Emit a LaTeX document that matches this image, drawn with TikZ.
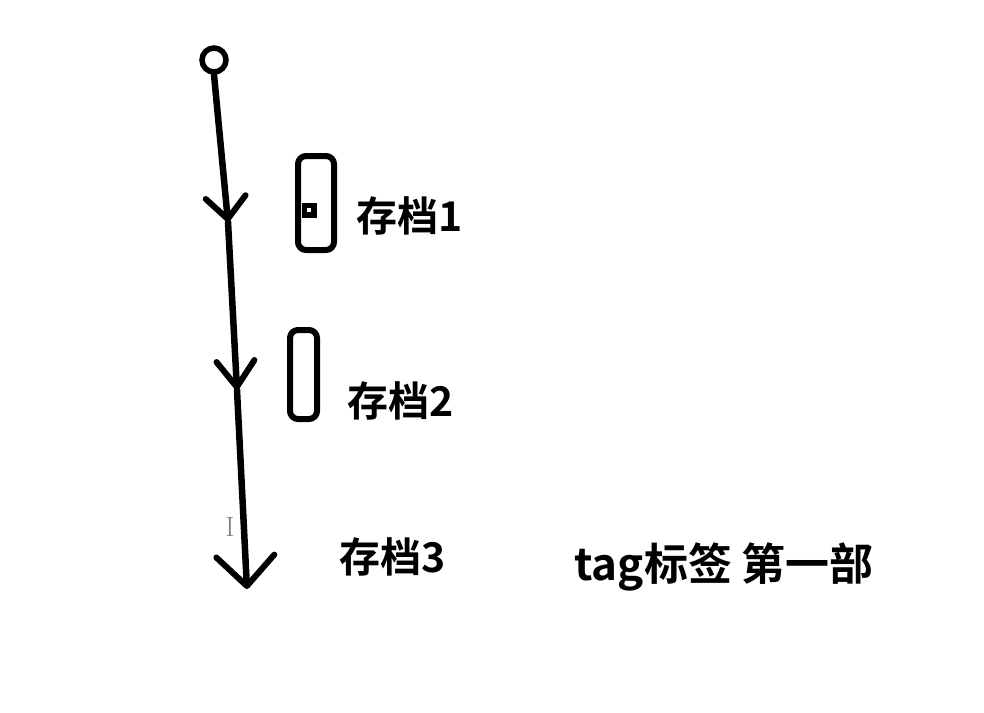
\documentclass[tikz,border=0pt]{standalone}
\usepackage{fontspec}
\newfontfamily\cjk{Noto Sans CJK SC}[BoldFont={* Bold}]
\usetikzlibrary{arrows.meta}
\tikzset{
  ink/.style={line width=6.5pt, line cap=round, line join=round, black},
  lbl/.style={font=\cjk\bfseries\fontsize{41}{41}\selectfont, inner sep=0pt, anchor=west},
  box/.style={draw, line width=6pt, rounded corners=8pt},
}
\begin{document}
\begin{tikzpicture}[x=1pt,y=-1pt]
\useasboundingbox[fill=white] (0,0) rectangle (984,712);
% start circle
\node[circle, draw, line width=5.5pt, minimum size=24pt, inner sep=0pt] (start) at (214,60) {};
\coordinate (t1) at (228,222);
\coordinate (t2) at (237,390);
\coordinate (t3) at (247,589);
\draw[ink, -{Straight Barb[length=22pt, width=40pt, line width=6pt, round]}] (start.south) -- (t1);
\draw[ink, -{Straight Barb[length=26pt, width=38pt, line width=6pt, round]}] (t1) -- (t2);
\draw[ink, -{Straight Barb[length=30pt, width=58pt, line width=6pt, round]}] (t2) -- (t3);
% boxes
\draw[box] (298,156) rectangle (334,250);
\node[fill=black, minimum size=15pt, inner sep=0pt] (dot) at (309,210) {};
\node[fill=white, minimum size=4.5pt, inner sep=0pt] (dotc) at (dot.center) {};
\draw[box] (290,330) rectangle (317,419);
% labels
\node[lbl] (s1) at (356,216) {存档1};
\node[lbl] (s2) at (347,401) {存档2};
\node[lbl] (s3) at (339,557) {存档3};
\node[lbl, font=\cjk\bfseries\fontsize{44}{44}\selectfont] (tag) at (574,567) {tag标签 第一部};
% cursor
\node[gray, font=\fontsize{28}{28}\selectfont, inner sep=0pt] (cur) at (230,527) {I};
\end{tikzpicture}
\end{document}
